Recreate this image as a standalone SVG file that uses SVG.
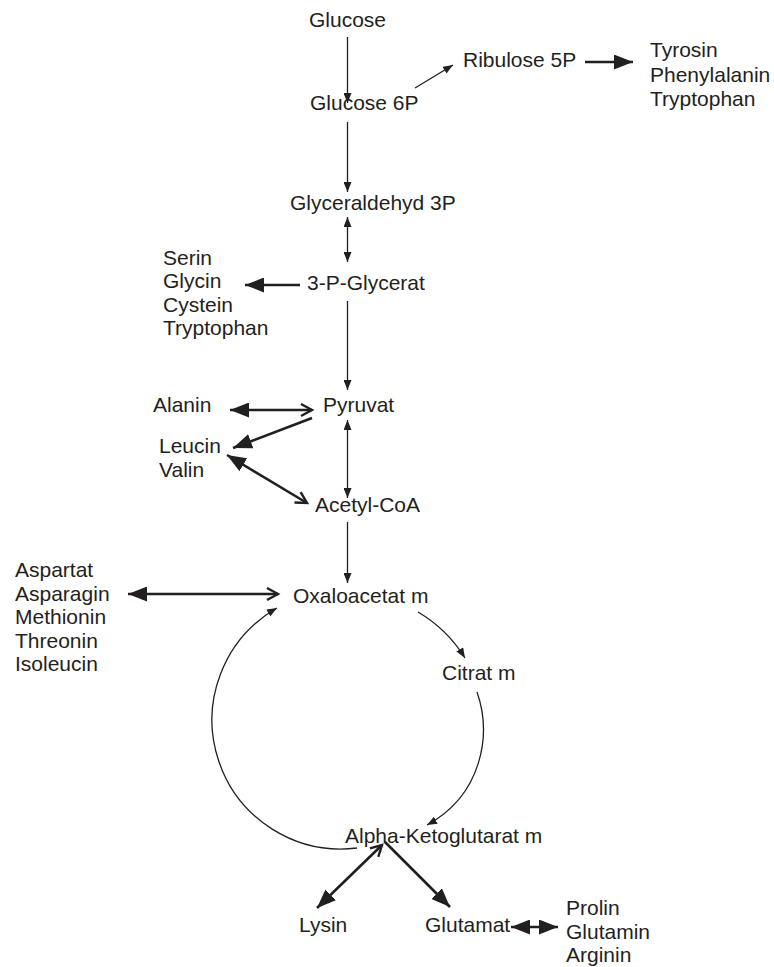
<svg xmlns="http://www.w3.org/2000/svg" width="774" height="967" viewBox="0 0 774 967">
<style>
text{font-family:"Liberation Sans",Arial,sans-serif;font-size:21px;fill:#231f20}
.t{fill:none;stroke:#231f20;stroke-width:1.3}
.k{fill:none;stroke:#231f20;stroke-width:2.6}
</style>
<defs>
<marker id="s" markerUnits="userSpaceOnUse" markerWidth="10" markerHeight="8" refX="10" refY="4" orient="auto-start-reverse"><path d="M0,0 L10,4 L0,8 z" fill="#231f20"/></marker>
<marker id="L" markerUnits="userSpaceOnUse" markerWidth="19" markerHeight="15" refX="19" refY="7.5" orient="auto-start-reverse"><path d="M0,0 L19,7.5 L0,15 z" fill="#231f20"/></marker>
<marker id="o" markerUnits="userSpaceOnUse" markerWidth="16" markerHeight="16" refX="13" refY="8" orient="auto-start-reverse"><path d="M2,2 L13,8 L2,14" fill="none" stroke="#231f20" stroke-width="2.4"/></marker>
</defs>
<rect width="774" height="967" fill="#fff"/>
<g id="connectors">
<line class="t" x1="347.5" y1="37" x2="347.5" y2="103" marker-end="url(#s)"/>
<line class="t" x1="415" y1="88" x2="453" y2="65" marker-end="url(#s)"/>
<line class="k" x1="585" y1="62" x2="633" y2="62" marker-end="url(#L)"/>
<line class="t" x1="347.5" y1="122" x2="347.5" y2="192" marker-end="url(#s)"/>
<line class="t" x1="347.5" y1="217" x2="347.5" y2="262" marker-start="url(#s)" marker-end="url(#s)"/>
<line class="k" x1="300" y1="285" x2="245" y2="285" marker-end="url(#L)"/>
<line class="t" x1="347.5" y1="301" x2="347.5" y2="390" marker-end="url(#s)"/>
<line class="k" x1="230" y1="410" x2="312" y2="410" marker-start="url(#L)" marker-end="url(#o)"/>
<line class="k" x1="312" y1="418" x2="233" y2="448" marker-end="url(#L)"/>
<line class="k" x1="227" y1="455" x2="307" y2="503" marker-start="url(#L)" marker-end="url(#o)"/>
<line class="t" x1="347.5" y1="420" x2="347.5" y2="498" marker-start="url(#s)" marker-end="url(#s)"/>
<line class="t" x1="347.5" y1="522" x2="347.5" y2="583" marker-end="url(#s)"/>
<line class="k" x1="128" y1="594" x2="278" y2="594" marker-start="url(#L)" marker-end="url(#o)"/>
<path class="t" d="M418,612 A137,137 0 0,1 465,658" marker-end="url(#s)"/>
<path class="t" d="M477,692 C492,735 482,795 427,825" marker-end="url(#s)"/>
<path class="t" d="M357,848 A129,129 0 0,1 277,608" marker-end="url(#s)"/>
<line class="k" x1="382" y1="845" x2="317" y2="908" marker-start="url(#o)" marker-end="url(#L)"/>
<line class="k" x1="385" y1="842" x2="450" y2="907" marker-end="url(#L)"/>
<line class="k" x1="511" y1="927" x2="558" y2="927" marker-start="url(#L)" marker-end="url(#L)"/>
</g>
<g id="glucose"><text x="309" y="27">Glucose</text></g>
<g id="glucose6p"><text x="310" y="110">Glucose 6P</text></g>
<g id="ribulose5p"><text x="463" y="67">Ribulose 5P</text></g>
<g id="aromatic"><text x="650" y="57">Tyrosin</text><text x="650" y="81.5">Phenylalanin</text><text x="650" y="106">Tryptophan</text></g>
<g id="glyceraldehyd3p"><text x="290" y="210">Glyceraldehyd 3P</text></g>
<g id="glycerat3p"><text x="307" y="290">3-P-Glycerat</text></g>
<g id="serin-group"><text x="163" y="264.5">Serin</text><text x="163" y="288">Glycin</text><text x="163" y="311.5">Cystein</text><text x="163" y="335">Tryptophan</text></g>
<g id="alanin"><text x="153" y="412">Alanin</text></g>
<g id="pyruvat"><text x="323" y="412">Pyruvat</text></g>
<g id="leucin-valin"><text x="159" y="453">Leucin</text><text x="159" y="477">Valin</text></g>
<g id="acetylcoa"><text x="315" y="512">Acetyl-CoA</text></g>
<g id="aspartat-group"><text x="15" y="577">Aspartat</text><text x="15" y="600.5">Asparagin</text><text x="15" y="624">Methionin</text><text x="15" y="647.5">Threonin</text><text x="15" y="671">Isoleucin</text></g>
<g id="oxaloacetat"><text x="293" y="603">Oxaloacetat m</text></g>
<g id="citrat"><text x="442" y="680">Citrat m</text></g>
<g id="alphaketoglutarat"><text x="345" y="843">Alpha-Ketoglutarat m</text></g>
<g id="lysin"><text x="299" y="932">Lysin</text></g>
<g id="glutamat"><text x="425" y="932">Glutamat</text></g>
<g id="prolin-group"><text x="566" y="915">Prolin</text><text x="566" y="938.5">Glutamin</text><text x="566" y="962">Arginin</text></g>
</svg>
